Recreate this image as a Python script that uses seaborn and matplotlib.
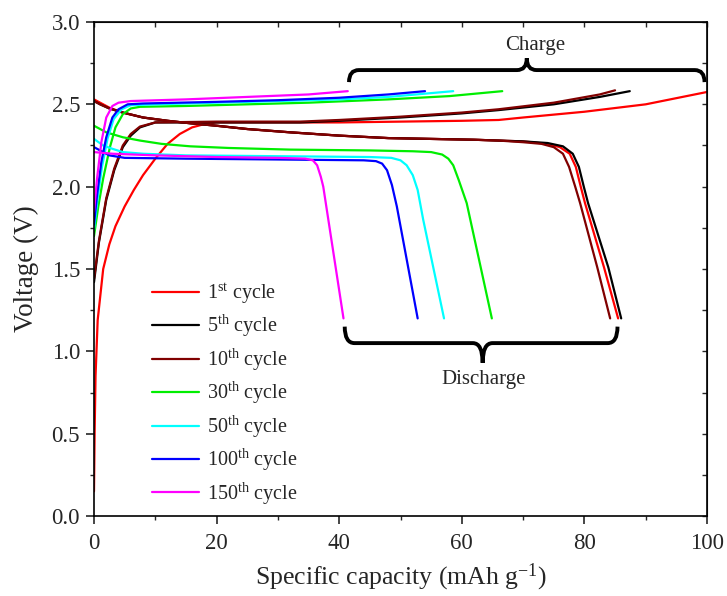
import matplotlib
matplotlib.use("Agg")
import matplotlib.pyplot as plt
from matplotlib.path import Path
from matplotlib.patches import PathPatch
from matplotlib.ticker import MultipleLocator
import seaborn as sns
import pandas as pd

# ---- data (capacity in mAh/g, voltage in V) ----
cyc1_chg_cap = [0, 0.1, 0.25, 0.6, 1.5, 2.5, 3.5, 5, 6.5, 8, 10, 12, 14, 16, 18, 20, 30, 40, 50, 60, 66, 70, 80, 90, 100]
cyc1_chg_v = [0.15, 0.5, 0.85, 1.19, 1.5, 1.65, 1.76, 1.88, 1.98, 2.07, 2.17, 2.26, 2.32, 2.36, 2.38, 2.39, 2.39, 2.39, 2.395, 2.40, 2.405, 2.42, 2.455, 2.50, 2.575]
cyc1_dis_cap = [0, 1, 2.5, 4.7, 8, 12, 15.7, 20, 25, 32, 40, 48, 55, 62, 66, 70, 74, 76, 77.6, 78.6, 79.4, 80.1, 83.2, 85.5]
cyc1_dis_v = [2.53, 2.51, 2.48, 2.45, 2.42, 2.40, 2.385, 2.37, 2.35, 2.33, 2.31, 2.295, 2.29, 2.285, 2.28, 2.275, 2.26, 2.24, 2.20, 2.12, 2.0, 1.90, 1.51, 1.20]

cyc5_chg_cap = [0, 0.8, 2, 3.3, 4.7, 6, 7.5, 10, 20, 33.6, 40, 50, 60, 66, 75, 82.5, 87.4]
cyc5_chg_v = [1.42, 1.66, 1.92, 2.10, 2.24, 2.31, 2.36, 2.39, 2.39, 2.39, 2.40, 2.42, 2.445, 2.465, 2.50, 2.545, 2.58]
cyc5_dis_cap = [0, 1, 2.5, 4.7, 8, 12, 15.7, 20, 25, 32, 40, 48, 55, 62, 66, 70, 74, 76.5, 78.1, 79.1, 79.9, 80.6, 83.9, 86.0]
cyc5_dis_v = [2.52, 2.50, 2.475, 2.45, 2.42, 2.40, 2.385, 2.37, 2.35, 2.33, 2.31, 2.295, 2.29, 2.285, 2.28, 2.275, 2.265, 2.245, 2.20, 2.12, 2.0, 1.90, 1.51, 1.20]

cyc10_chg_cap = [0, 0.8, 2, 3.3, 4.7, 6, 7.5, 10, 20, 33.6, 40, 50, 60, 66, 75, 82.5, 85]
cyc10_chg_v = [1.44, 1.67, 1.93, 2.11, 2.25, 2.32, 2.365, 2.39, 2.395, 2.395, 2.405, 2.425, 2.45, 2.47, 2.51, 2.56, 2.585]
cyc10_dis_cap = [0, 1, 2.5, 4.7, 8, 12, 15.7, 20, 25, 32, 40, 48, 55, 62, 66, 70, 73, 75, 76.5, 77.5, 78.5, 79.3, 82.1, 84.2]
cyc10_dis_v = [2.52, 2.50, 2.475, 2.45, 2.42, 2.40, 2.385, 2.37, 2.35, 2.33, 2.31, 2.295, 2.29, 2.285, 2.28, 2.27, 2.26, 2.24, 2.20, 2.12, 2.0, 1.90, 1.51, 1.20]

cyc30_chg_cap = [0, 0.7, 1.5, 2.6, 3.5, 4.7, 6, 7.5, 15, 25, 35, 48, 58, 66.6]
cyc30_chg_v = [1.70, 1.88, 2.05, 2.24, 2.36, 2.44, 2.475, 2.485, 2.49, 2.50, 2.51, 2.53, 2.55, 2.58]
cyc30_dis_cap = [0, 2, 4.7, 7.5, 11, 15.7, 22, 32, 45, 52, 55, 56.8, 57.8, 58.6, 59.5, 60.8, 64.9]
cyc30_dis_v = [2.37, 2.33, 2.30, 2.28, 2.26, 2.245, 2.235, 2.225, 2.22, 2.215, 2.21, 2.195, 2.17, 2.13, 2.04, 1.90, 1.20]

cyc50_chg_cap = [0, 0.6, 1.3, 2.2, 3.2, 4.5, 6, 10, 20, 30, 40, 48, 58.6]
cyc50_chg_v = [1.74, 1.93, 2.12, 2.29, 2.41, 2.47, 2.495, 2.50, 2.51, 2.52, 2.53, 2.545, 2.58]
cyc50_dis_cap = [0, 1.5, 3, 4.7, 8, 15, 30, 45, 48.5, 50, 51, 52, 52.8, 53.7, 57.1]
cyc50_dis_v = [2.29, 2.25, 2.23, 2.21, 2.20, 2.19, 2.185, 2.18, 2.175, 2.16, 2.13, 2.07, 1.98, 1.80, 1.20]

cyc100_chg_cap = [0, 0.5, 1.2, 2, 3, 4, 5.5, 8, 20, 30, 40, 48, 54]
cyc100_chg_v = [1.77, 1.95, 2.15, 2.30, 2.42, 2.47, 2.50, 2.505, 2.515, 2.525, 2.54, 2.56, 2.58]
cyc100_dis_cap = [0, 1, 2.5, 5, 15, 30, 44, 46, 47, 47.8, 48.6, 49.4, 52.8]
cyc100_dis_v = [2.24, 2.22, 2.19, 2.175, 2.17, 2.165, 2.16, 2.155, 2.14, 2.10, 2.01, 1.88, 1.20]

cyc150_chg_cap = [0, 0.5, 1.2, 2, 3, 4, 6, 15, 25, 35, 41.4]
cyc150_chg_v = [1.85, 2.05, 2.27, 2.42, 2.49, 2.51, 2.52, 2.53, 2.545, 2.56, 2.58]
cyc150_dis_cap = [0, 3, 10, 20, 30, 34.5, 35.7, 36.4, 37, 37.4, 40.7]
cyc150_dis_v = [2.21, 2.20, 2.19, 2.18, 2.175, 2.17, 2.16, 2.13, 2.06, 2.00, 1.20]

labels = [r"1$^{\mathrm{st}}$ cycle", r"5$^{\mathrm{th}}$ cycle", r"10$^{\mathrm{th}}$ cycle",
          r"30$^{\mathrm{th}}$ cycle", r"50$^{\mathrm{th}}$ cycle", r"100$^{\mathrm{th}}$ cycle",
          r"150$^{\mathrm{th}}$ cycle"]
colors = ["#ff0000", "#000000", "#800000", "#00ee00", "#00ffff", "#0000ff", "#ff00ff"]

charges = [(cyc1_chg_cap, cyc1_chg_v), (cyc5_chg_cap, cyc5_chg_v), (cyc10_chg_cap, cyc10_chg_v),
           (cyc30_chg_cap, cyc30_chg_v), (cyc50_chg_cap, cyc50_chg_v), (cyc100_chg_cap, cyc100_chg_v),
           (cyc150_chg_cap, cyc150_chg_v)]
discharges = [(cyc1_dis_cap, cyc1_dis_v), (cyc5_dis_cap, cyc5_dis_v), (cyc10_dis_cap, cyc10_dis_v),
              (cyc30_dis_cap, cyc30_dis_v), (cyc50_dis_cap, cyc50_dis_v), (cyc100_dis_cap, cyc100_dis_v),
              (cyc150_dis_cap, cyc150_dis_v)]

sns.set_style("ticks")
plt.rcParams["font.family"] = ["Liberation Serif", "DejaVu Serif"]
plt.rcParams["mathtext.fontset"] = "custom"
plt.rcParams["mathtext.rm"] = "Liberation Serif"
plt.rcParams["mathtext.it"] = "Liberation Serif:italic"

fig = plt.figure(figsize=(7.27, 5.96), dpi=100)
ax = fig.add_axes([0.1293, 0.1342, 0.8432, 0.8289])

for (cx, cv), (dx, dv), lab, col in zip(charges, discharges, labels, colors):
    df_c = pd.DataFrame({"cap": cx, "v": cv})
    df_d = pd.DataFrame({"cap": dx, "v": dv})
    sns.lineplot(data=df_c, x="cap", y="v", sort=False, estimator=None, color=col, lw=1.6, label=lab, ax=ax)
    sns.lineplot(data=df_d, x="cap", y="v", sort=False, estimator=None, color=col, lw=1.6, ax=ax)


def brace(ax, x0, x1, xm, y_end, y_h, y_tip, dx):
    verts = [(x0, y_end), (x0, y_h), (x0 + dx, y_h), (xm - dx, y_h), (xm, y_h), (xm, y_tip),
             (xm, y_h), (xm + dx, y_h), (x1 - dx, y_h), (x1, y_h), (x1, y_end)]
    codes = [Path.MOVETO, Path.CURVE3, Path.CURVE3, Path.LINETO, Path.CURVE3, Path.CURVE3,
             Path.CURVE3, Path.CURVE3, Path.LINETO, Path.CURVE3, Path.CURVE3]
    ax.add_patch(PathPatch(Path(verts, codes), fc="none", ec="black", lw=2.8, capstyle="butt", clip_on=False))


brace(ax, 41.6, 99.6, 70.6, 2.635, 2.708, 2.78, 1.6)
ax.text(71.9, 2.86, "Charge", ha="center", va="center", fontsize=15)
brace(ax, 40.9, 85.4, 63.4, 1.15, 1.05, 0.93, 1.6)
ax.text(63.5, 0.83, "Discharge", ha="center", va="center", fontsize=15)

ax.set_xlim(0, 100)
ax.set_ylim(0, 3.0)
ax.xaxis.set_major_locator(MultipleLocator(20))
ax.xaxis.set_minor_locator(MultipleLocator(10))
ax.yaxis.set_major_locator(MultipleLocator(0.5))
ax.yaxis.set_minor_locator(MultipleLocator(0.25))
ax.yaxis.set_major_formatter(matplotlib.ticker.FormatStrFormatter("%.1f"))
ax.tick_params(which="major", direction="out", length=6, width=1.2, labelsize=16.5, top=False, right=False)
ax.tick_params(axis="x", which="major", pad=6)
ax.tick_params(axis="y", which="major", pad=4)
ax.tick_params(which="minor", direction="out", length=3, width=1.0, top=False, right=False)
for side in ["top", "right", "left", "bottom"]:
    ax.spines[side].set_linewidth(1.2)
    ax.spines[side].set_color("black")

# inward mirror ticks on top and right
sec_x = ax.secondary_xaxis("top")
sec_x.xaxis.set_major_locator(MultipleLocator(10))
sec_x.tick_params(direction="in", length=3.5, width=1.0, labeltop=False)
sec_y = ax.secondary_yaxis("right")
sec_y.yaxis.set_major_locator(MultipleLocator(0.25))
sec_y.tick_params(direction="in", length=3.5, width=1.0, labelright=False)

ax.set_xlabel(r"Specific capacity (mAh g$^{\mathrm{-1}}$)", fontsize=18.5, labelpad=6)
ax.set_ylabel("Voltage (V)", fontsize=19.5, labelpad=9)

ax.legend(loc="upper left", bbox_to_anchor=(0.095, 0.475), frameon=False, fontsize=14.5,
          handlelength=2.3, handletextpad=0.4, labelspacing=0.36, borderpad=0, borderaxespad=0)

fig.savefig("out.png", dpi=100)
